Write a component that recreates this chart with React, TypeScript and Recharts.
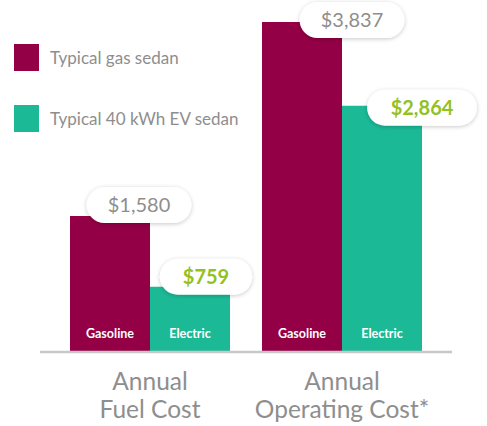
import React from 'react';
import { BarChart, Bar, XAxis, YAxis, LabelList, Legend } from 'recharts';

const categories = ['Annual Fuel Cost', 'Annual Operating Cost*'];
const categoryLines = [['Annual', 'Fuel Cost'], ['Annual', 'Operating Cost*']];
const gasValues = [1580, 3837];
const evValues = [759, 2864];
const barTags = ['Gasoline', 'Electric'];
const seriesNames = ['Typical gas sedan', 'Typical 40 kWh EV sedan'];

const data = categories.map((c, i) => ({ category: c, gas: gasValues[i], ev: evValues[i] }));

const GAS = '#930045';
const EV = '#1bb996';
const GRAY = '#8e8e8e';
const LIME = '#93c11f';
const FONT = 'Lato, "Open Sans", sans-serif';

// label bubble nudges (layout only)
const GAS_NUDGE = [{ dx: 29, dy: -11 }, { dx: 50, dy: -2 }];
const EV_NUDGE = [{ dx: 16, dy: -10 }, { dx: 40, dy: 2 }];

const estimateWidth = (t: string, bold: boolean) => {
  let w = 0;
  for (const ch of t) {
    if (ch === ',') w += 4.8;
    else w += bold ? 12.6 : 11.6;
  }
  return w;
};

const getBox = (props: any) => {
  const vb = props.viewBox || {};
  return {
    x: props.x ?? vb.x,
    y: props.y ?? vb.y,
    width: props.width ?? vb.width,
    height: props.height ?? vb.height,
  };
};

const makePill = (nudges: { dx: number; dy: number }[], bold: boolean, color: string, key: string) => (props: any) => {
  const { x, y, width } = getBox(props);
  const index = props.index ?? 0;
  const n = nudges[index] || { dx: 0, dy: 0 };
  const text = '$' + Number(props.value).toLocaleString('en-US');
  const tw = estimateWidth(text, bold);
  const w = tw + 42;
  const h = 36;
  const cx = x + width / 2 + n.dx;
  const cy = y + n.dy;
  const fid = `pillShadow-${key}-${index}`;
  return (
    <g>
      <defs>
        <filter id={fid} x="-30%" y="-50%" width="160%" height="200%">
          <feDropShadow dx="0" dy="1" stdDeviation="2" floodColor="#000" floodOpacity="0.22" />
        </filter>
      </defs>
      <rect x={cx - w / 2} y={cy - h / 2} width={w} height={h} rx={18} ry={18} fill="#fff" filter={`url(#${fid})`} />
      <text
        x={cx}
        y={cy}
        dy="0.36em"
        textAnchor="middle"
        fill={color}
        fontSize={20}
        fontWeight={bold ? 700 : 400}
        fontFamily={FONT}
      >
        {text}
      </text>
    </g>
  );
};

const makeTag = (tag: string) => (props: any) => {
  const { x, y, width, height } = getBox(props);
  return (
    <text
      x={x + width / 2}
      y={y + height - 14}
      textAnchor="middle"
      fill="#fff"
      fontSize={12.5}
      fontWeight={700}
      fontFamily={FONT}
    >
      {tag}
    </text>
  );
};

const Tick = (props: any) => {
  const { x, y, payload } = props;
  const idx = categories.indexOf(payload.value);
  const lines = categoryLines[idx] || [payload.value];
  return (
    <text x={x} y={y} textAnchor="middle" fill={GRAY} fontSize={24.5} fontFamily={FONT}>
      {lines.map((l, i) => (
        <tspan key={i} x={x} dy={i === 0 ? 38 : 28}>
          {l}
        </tspan>
      ))}
    </text>
  );
};

const LegendContent = (props: any) => {
  const payload = [...(props.payload || [])].sort(
    (a: any, b: any) => seriesNames.indexOf(a.value) - seriesNames.indexOf(b.value)
  );
  return (
    <svg width={260} height={140} style={{ display: 'block' }}>
      {payload.map((p: any, i: number) => (
        <g key={i}>
          <rect x={14} y={44 + i * 61} width={25} height={27} fill={p.color} />
          <text x={50} y={63.5 + i * 61} fill={GRAY} fontSize={17} fontFamily={FONT}>
            {p.value}
          </text>
        </g>
      ))}
    </svg>
  );
};

export default function App() {
  return (
    <div style={{ position: 'absolute', left: 0, top: 0, width: 487, height: 426, background: '#fff' }}>
      <BarChart
        width={487}
        height={426}
        data={data}
        margin={{ top: 8, right: 35, bottom: 0, left: 40 }}
        barGap={0}
      >
        <XAxis
          dataKey="category"
          axisLine={{ stroke: '#c8c8c8', strokeWidth: 2.5 }}
          tickLine={false}
          tickSize={0}
          tickMargin={0}
          height={74}
          padding={{ left: 14, right: 14 }}
          tick={<Tick />}
          interval={0}
        />
        <YAxis hide domain={[0, 4000]} />
        <Legend
          layout="horizontal"
          verticalAlign="middle"
          align="center"
          content={<LegendContent />}
          wrapperStyle={{ position: 'absolute', left: 0, top: 0, width: 260, height: 140 }}
        />
        <Bar dataKey="gas" name={seriesNames[0]} fill={GAS} barSize={80} isAnimationActive={false}>
          <LabelList dataKey="gas" content={makeTag(barTags[0])} />
          <LabelList dataKey="gas" content={makePill(GAS_NUDGE, false, GRAY, 'gas')} />
        </Bar>
        <Bar dataKey="ev" name={seriesNames[1]} fill={EV} barSize={80} isAnimationActive={false}>
          <LabelList dataKey="ev" content={makeTag(barTags[1])} />
          <LabelList dataKey="ev" content={makePill(EV_NUDGE, true, LIME, 'ev')} />
        </Bar>
      </BarChart>
    </div>
  );
}
